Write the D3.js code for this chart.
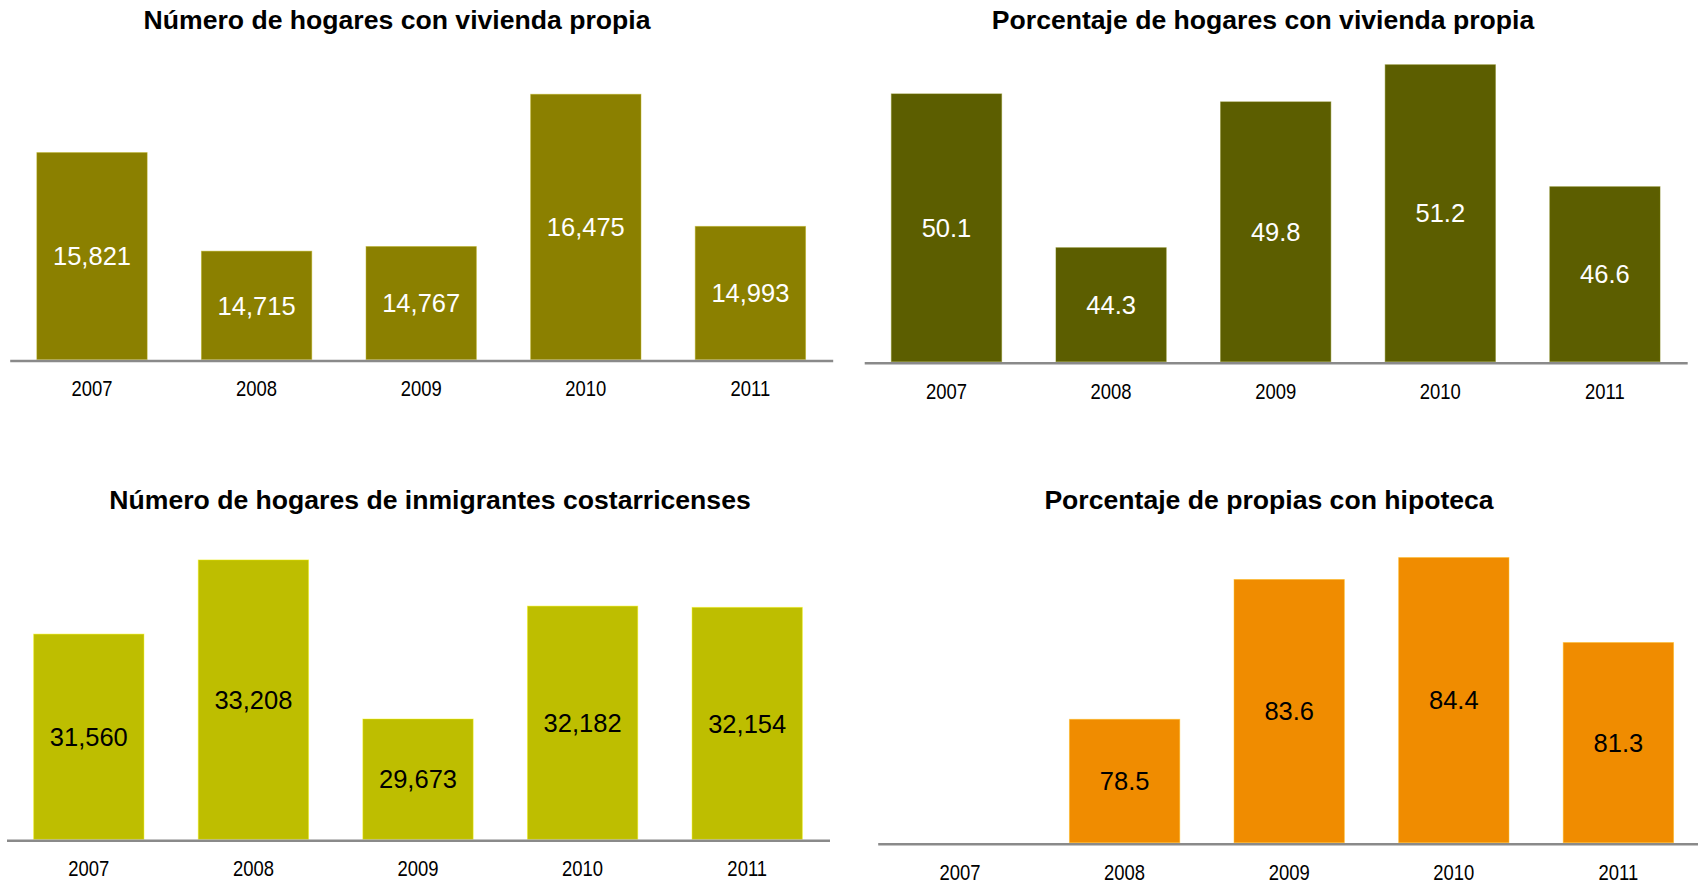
<!DOCTYPE html>
<html>
<head>
<meta charset="utf-8">
<script src="https://cdn.jsdelivr.net/npm/d3@7"></script>
<style>
  html, body { margin: 0; padding: 0; background: #fff; }
  svg { display: block; }
  text { font-family: "Liberation Sans", Arial, Helvetica, sans-serif; }
</style>
</head>
<body>
<svg id="chart" width="1698" height="885"></svg>
<script>
const years = ["2007", "2008", "2009", "2010", "2011"];

const titles = [
  "Número de hogares con vivienda propia",
  "Porcentaje de hogares con vivienda propia",
  "Número de hogares de inmigrantes costarricenses",
  "Porcentaje de propias con hipoteca"
];

const hogaresPropia = [15821, 14715, 14767, 16475, 14993];
const pctPropia = [50.1, 44.3, 49.8, 51.2, 46.6];
const hogaresInmigrantes = [31560, 33208, 29673, 32182, 32154];
const pctHipoteca = [null, 78.5, 83.6, 84.4, 81.3];

const yDomains = [[13500, 17000], [40, 52], [27000, 34000], [74, 86]];
const labelFormats = [",", ".1f", ",", ".1f"];
const colors = ["#8B8000", "#5C5E00", "#BEBE00", "#F08C00"];
const labelColors = ["#ffffff", "#ffffff", "#000000", "#000000"];

const panels = [
  { values: hogaresPropia, x0: 9.7, axisY: 359.5, h: 312, titleX: 397, titleY: 29 },
  { values: pctPropia, x0: 864.2, axisY: 361.7, h: 318.2, titleX: 1263, titleY: 29 },
  { values: hogaresInmigrantes, x0: 6.5, axisY: 839.3, h: 315, titleX: 430, titleY: 509 },
  { values: pctHipoteca, x0: 877.7, axisY: 842.7, h: 329, titleX: 1269, titleY: 509 }
];

const svg = d3.select("#chart");
const step = 164.6;

panels.forEach((p, i) => {
  const g = svg.append("g");
  const x = d3.scaleBand()
    .domain(years)
    .range([p.x0, p.x0 + step * years.length])
    .paddingInner(0.33)
    .paddingOuter(0.165);
  const y = d3.scaleLinear()
    .domain(yDomains[i])
    .range([p.axisY, p.axisY - p.h]);

  const data = years.map((yr, k) => ({ yr, v: p.values[k] })).filter(d => d.v != null);

  g.selectAll("rect.bar").data(data).enter().append("rect")
    .attr("class", "bar")
    .attr("x", d => x(d.yr))
    .attr("y", d => y(d.v))
    .attr("width", x.bandwidth())
    .attr("height", d => y(yDomains[i][0]) - y(d.v))
    .attr("fill", colors[i])
    .attr("stroke", d3.color(colors[i]).brighter(0.7))
    .attr("stroke-opacity", 0.45)
    .attr("stroke-width", 1);

  const fmt = d3.format(labelFormats[i]);
  g.selectAll("text.val").data(data).enter().append("text")
    .attr("class", "val")
    .attr("x", d => x(d.yr) + x.bandwidth() / 2)
    .attr("y", d => (y(d.v) + y(yDomains[i][0])) / 2)
    .attr("dy", "0.36em")
    .attr("text-anchor", "middle")
    .attr("font-size", 25.5)
    .attr("fill", labelColors[i])
    .text(d => fmt(d.v));

  // x axis
  const axis = d3.axisBottom(x).tickSize(0).tickPadding(0);
  const ag = g.append("g")
    .attr("transform", `translate(0,${p.axisY + 1})`)
    .call(axis);
  ag.select(".domain").attr("stroke", "#8a8a8a").attr("stroke-width", 2.5);
  ag.selectAll(".tick text")
    .attr("font-size", 22.5)
    .attr("fill", "#000")
    .attr("dy", null)
    .attr("y", 36)
    .attr("transform", "scale(0.82,1)")
    .style("font-family", '"Liberation Sans", Arial, sans-serif');

  svg.append("text")
    .attr("x", p.titleX)
    .attr("y", p.titleY)
    .attr("text-anchor", "middle")
    .attr("font-size", 26.6)
    .attr("font-weight", "bold")
    .attr("fill", "#000")
    .text(titles[i]);
});
</script>
</body>
</html>
